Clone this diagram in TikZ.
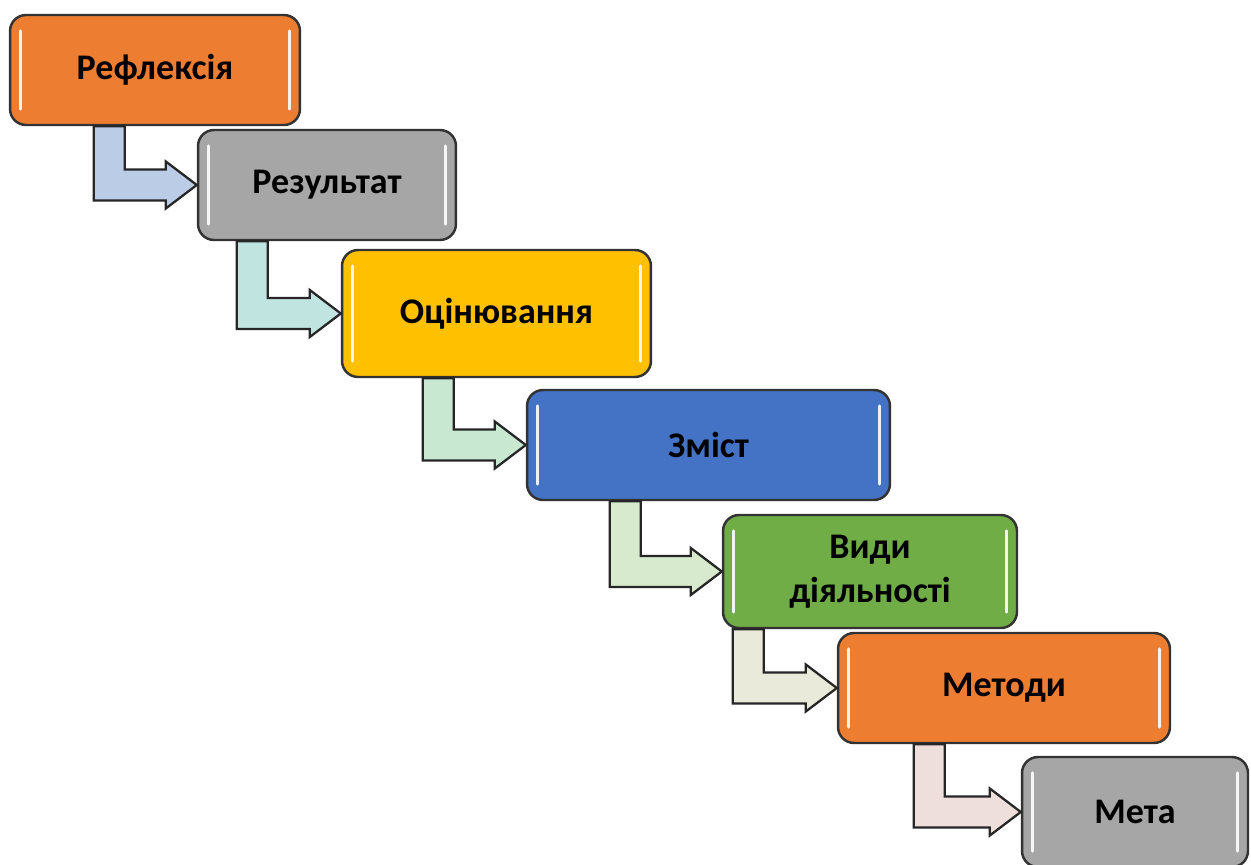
\documentclass[tikz,border=0pt]{standalone}
\usepackage{fontspec}
\setmainfont{Carlito}
\usetikzlibrary{calc}

\definecolor{orangeA}{RGB}{237,125,49}
\definecolor{grayA}{RGB}{166,166,166}
\definecolor{goldA}{RGB}{255,192,0}
\definecolor{blueA}{RGB}{68,114,196}
\definecolor{greenA}{RGB}{112,173,71}
\definecolor{arrA}{RGB}{186,204,230}
\definecolor{arrB}{RGB}{192,228,224}
\definecolor{arrC}{RGB}{200,232,210}
\definecolor{arrD}{RGB}{216,234,206}
\definecolor{arrE}{RGB}{234,234,218}
\definecolor{arrF}{RGB}{238,222,220}

\tikzset{
  stage/.style={draw=black!80, line width=1.4pt, rounded corners=0.32cm,
    inner sep=0pt, align=center, text=black,
    font=\fontsize{20.5}{25}\selectfont\bfseries},
  elbow/.style={draw=black!85, line width=1.3pt, line join=miter},
  gloss/.style={white, line width=1.6pt, opacity=0.9, line cap=round}
}

% L-shaped arrow: from box, to box, stem offset, fill
\newcommand{\elbow}[4]{%
  \coordinate (s) at ($(#1.south west)+(#3,0)$);
  \coordinate (t) at (#2.west);
  \draw[elbow, fill=#4] (s) -- ++(31,0) |- ($(t)+(-31,-15.5)$) -- ++(0,-8)
    -- (t) -- ($(t)+(-31,23.5)$) -- ++(0,-8) -| (s) -- cycle;
}

\begin{document}
\begin{tikzpicture}[x=0.02cm, y=-0.02cm]
    \useasboundingbox (0,0) rectangle (1251,865);

    % stages
    \node[stage, fill=orangeA, minimum width=5.8cm, minimum height=2.2cm] (refl) at (155,70) {Рефлексія};
    \node[stage, fill=grayA, minimum width=5.16cm, minimum height=2.2cm] (res) at (327,185) {Результат};
    \node[stage, fill=goldA, minimum width=6.18cm, minimum height=2.54cm] (ocin) at (496.5,313.5) {Оцінювання};
    \node[stage, fill=blueA, minimum width=7.26cm, minimum height=2.2cm] (zmist) at (708.5,445) {Зміст};
    \node[stage, fill=greenA, minimum width=5.88cm, minimum height=2.26cm] (vydy) at (870,571.5) {Види\\діяльності};
    \node[stage, fill=orangeA, minimum width=6.64cm, minimum height=2.2cm] (metody) at (1004,688) {Методи};
    \node[stage, fill=grayA, minimum width=4.52cm, minimum height=2.2cm] (meta) at (1135,812) {Мета};

    % highlights
    \foreach \n in {refl,res,ocin,zmist,vydy,metody,meta} {
        \draw[gloss] ($(\n.north west)+(12,17)$) -- ($(\n.south west)+(12,-17)$);
        \draw[gloss] ($(\n.north east)+(-12,17)$) -- ($(\n.south east)+(-12,-17)$);
    }

    % connectors
    \elbow{refl}{res}{85}{arrA}
    \elbow{res}{ocin}{40}{arrB}
    \elbow{ocin}{zmist}{82}{arrC}
    \elbow{zmist}{vydy}{84}{arrD}
    \elbow{vydy}{metody}{11}{arrE}
    \elbow{metody}{meta}{77}{arrF}
\end{tikzpicture}
\end{document}
